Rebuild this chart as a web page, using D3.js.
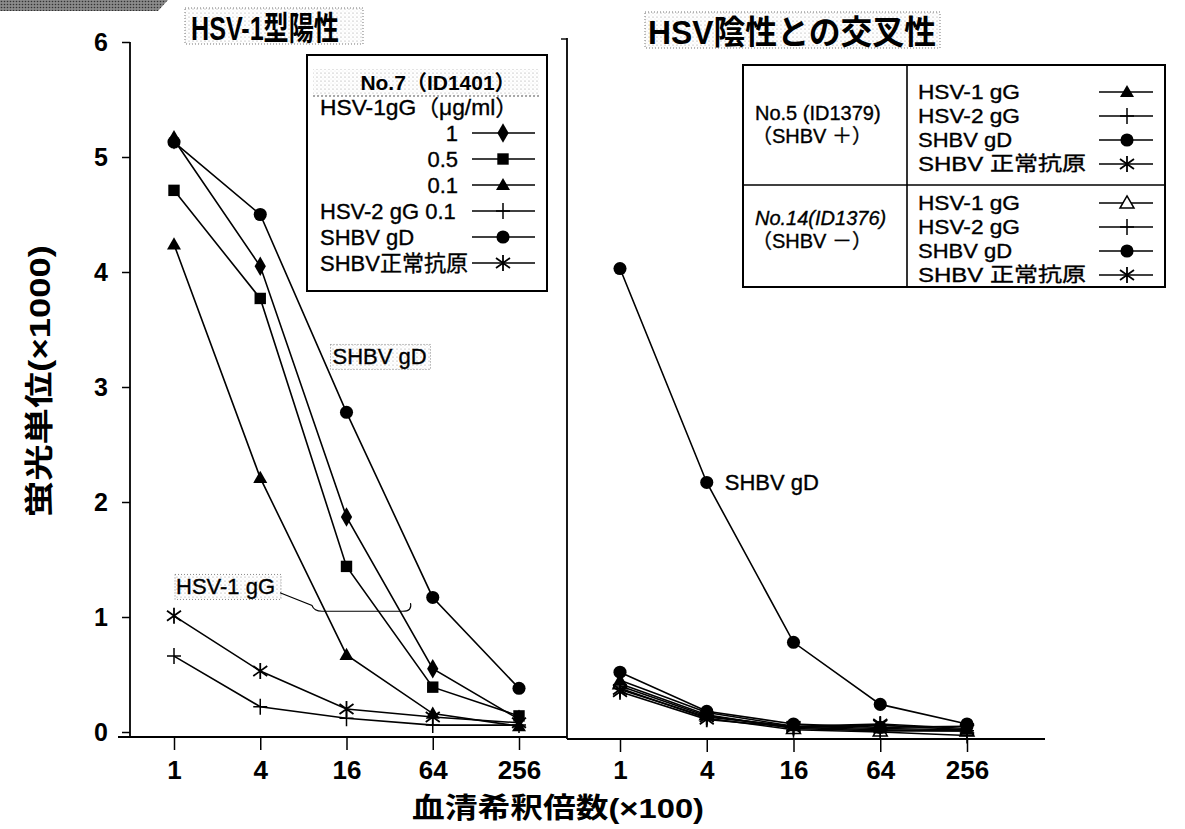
<!DOCTYPE html>
<html>
<head>
<meta charset="utf-8">
<script src="https://cdn.jsdelivr.net/npm/d3@7/dist/d3.min.js"></script>
<style>
body { margin: 0; background: #fff; }
svg { display: block; font-family: "Liberation Sans", Arial, "Noto Sans CJK JP", sans-serif; }
.lt { stroke: black; stroke-width: 0.35; }
</style>
</head>
<body>
<svg width="1185" height="829"></svg>
<script>
const dilutions = ["1", "4", "16", "64", "256"]
const yTicks = [0, 1, 2, 3, 4, 5, 6]

// left panel, No.7 (ID1401)
const leftLabels = ["1", "0.5", "0.1", "HSV-2 gG 0.1", "SHBV gD", "SHBV正常抗原"]
const leftMarkers = ["diamond", "square", "triangle", "plus", "circle", "asterisk"]
const hsv1_1 = [5.15, 4.05, 1.87, 0.55, 0.11]
const hsv1_05 = [4.71, 3.77, 1.44, 0.39, 0.14]
const hsv1_01 = [4.24, 2.21, 0.67, 0.16, 0.05]
const hsv2_01 = [0.66, 0.22, 0.12, 0.06, 0.06]
const shbvGd7 = [5.13, 4.50, 2.78, 1.17, 0.38]
const shbvNormal7 = [1.01, 0.53, 0.20, 0.13, 0.08]
const leftValues = [hsv1_1, hsv1_05, hsv1_01, hsv2_01, shbvGd7, shbvNormal7]

// right panel, No.5 (ID1379) and No.14 (ID1376)
const rightLabels = ["HSV-1 gG", "HSV-2 gG", "SHBV gD", "SHBV 正常抗原"]
const no5Markers = ["triangle", "plus", "circle", "asterisk"]
const no14Markers = ["triangleOpen", "plus", "circle", "asterisk"]
const no5Hsv1 = [0.45, 0.17, 0.05, 0.03, 0.02]
const no5Hsv2 = [0.40, 0.14, 0.04, 0.02, 0.01]
const no5ShbvGd = [4.03, 2.17, 0.78, 0.24, 0.07]
const no5Normal = [0.37, 0.13, 0.05, 0.07, 0.03]
const no14Hsv1 = [0.42, 0.15, 0.03, 0.01, 0.01]
const no14Hsv2 = [0.38, 0.12, 0.02, 0.00, -0.03]
const no14ShbvGd = [0.52, 0.18, 0.07, 0.04, 0.05]
const no14Normal = [0.35, 0.11, 0.04, 0.06, 0.02]
const no5Values = [no5Hsv1, no5Hsv2, no5ShbvGd, no5Normal]
const no14Values = [no14Hsv1, no14Hsv2, no14ShbvGd, no14Normal]

const svg = d3.select("svg")

const y = d3.scaleLinear().domain([0, 6]).range([732, 42])
const xL = d3.scalePoint().domain(dilutions).range([174, 519])
const xR = d3.scalePoint().domain(dilutions).range([620, 967])

// stipple pattern used behind the titles and labels
const defs = svg.append("defs")
const pat = defs.append("pattern").attr("id", "dots")
    .attr("width", 4).attr("height", 4).attr("patternUnits", "userSpaceOnUse")
pat.append("circle").attr("cx", 1).attr("cy", 1).attr("r", 0.6).attr("fill", "#9a9a9a")
pat.append("circle").attr("cx", 3).attr("cy", 3).attr("r", 0.4).attr("fill", "#c8c8c8")
const pat2 = defs.append("pattern").attr("id", "dark")
    .attr("width", 3).attr("height", 3).attr("patternUnits", "userSpaceOnUse")
pat2.append("rect").attr("width", 3).attr("height", 3).attr("fill", "#8a8a8a")
pat2.append("circle").attr("cx", 1.5).attr("cy", 1.5).attr("r", 0.8).attr("fill", "#333")

// scan smudge at top left
svg.append("polygon").attr("points", "0,0 168,0 158,11 0,11").attr("fill", "url(#dark)")

function marker(g, type, cx, cy) {
    if (type == "plus") {
        g.append("path").attr("d", `M${cx - 7},${cy}H${cx + 7}M${cx},${cy - 8}V${cy + 8}`)
            .attr("stroke", "black").attr("stroke-width", 1.5).attr("fill", "none")
    } else if (type == "asterisk") {
        g.append("path").attr("d", `M${cx},${cy - 8}V${cy + 8}M${cx - 7},${cy - 5}L${cx + 7},${cy + 5}M${cx - 7},${cy + 5}L${cx + 7},${cy - 5}`)
            .attr("stroke", "black").attr("stroke-width", 1.8).attr("fill", "none")
    } else {
        let sym = d3.symbolCircle, size = 135
        if (type == "diamond") { sym = d3.symbolDiamond; size = 110 }
        if (type == "square") { sym = d3.symbolSquare; size = 130 }
        if (type == "triangle" || type == "triangleOpen") { sym = d3.symbolTriangle; size = 85 }
        g.append("path").attr("d", d3.symbol().type(sym).size(size)())
            .attr("transform", `translate(${cx},${cy + (sym == d3.symbolTriangle ? 1 : 0)})`)
            .attr("fill", type == "triangleOpen" ? "white" : "black")
            .attr("stroke", "black").attr("stroke-width", type == "triangleOpen" ? 1.5 : 0)
    }
}

function series(g, x, values, type) {
    const line = d3.line().x((d, i) => x(dilutions[i])).y(d => y(d))
    g.append("path").datum(values).attr("d", line)
        .attr("fill", "none").attr("stroke", "black").attr("stroke-width", 1.6)
    for (let i = 0; i < values.length; i++) {
        marker(g, type, x(dilutions[i]), y(values[i]))
    }
}

// axes
const tickFont = '"Liberation Sans Narrow", "Liberation Sans", Arial, sans-serif'
const yAxis = svg.append("g").attr("transform", "translate(130,0)")
    .call(d3.axisLeft(y).tickValues(yTicks).tickSize(8).tickPadding(14).tickFormat(d3.format("d")))
yAxis.select(".domain").remove()
yAxis.selectAll("line").attr("stroke-width", 1.5)
yAxis.selectAll("text").attr("font-size", 25).attr("font-weight", "bold").attr("font-family", tickFont)
svg.append("line").attr("x1", 130).attr("x2", 130).attr("y1", y(6)).attr("y2", 738)
    .attr("stroke", "black").attr("stroke-width", 1.8)

const xAxisL = svg.append("g").attr("transform", "translate(0,737)")
    .call(d3.axisBottom(xL).tickSize(13).tickPadding(11))
const xAxisR = svg.append("g").attr("transform", "translate(0,739)")
    .call(d3.axisBottom(xR).tickSize(13).tickPadding(9))
for (const ax of [xAxisL, xAxisR]) {
    ax.select(".domain").remove()
    ax.selectAll("line").attr("stroke-width", 1.5)
    ax.selectAll("text").attr("font-size", 26).attr("font-weight", "bold").attr("font-family", tickFont)
}
svg.append("line").attr("x1", 118).attr("x2", 567).attr("y1", 737).attr("y2", 737)
    .attr("stroke", "black").attr("stroke-width", 2)
svg.append("line").attr("x1", 567).attr("x2", 1045).attr("y1", 739).attr("y2", 739)
    .attr("stroke", "black").attr("stroke-width", 2)
// panel divider
svg.append("line").attr("x1", 567).attr("x2", 567).attr("y1", 38).attr("y2", 739)
    .attr("stroke", "black").attr("stroke-width", 1.8)
svg.append("line").attr("x1", 561).attr("x2", 567).attr("y1", 39).attr("y2", 39)
    .attr("stroke", "black").attr("stroke-width", 1.4)

// axis titles
svg.append("text").attr("transform", `translate(50,${y(3.05)}) rotate(-90)`)
    .attr("text-anchor", "middle").attr("font-size", 29).attr("font-weight", "bold")
    .attr("textLength", 272).attr("lengthAdjust", "spacingAndGlyphs")
    .text("蛍光単位(×1000)")
svg.append("text").attr("x", 558).attr("y", 818)
    .attr("text-anchor", "middle").attr("font-size", 28).attr("font-weight", "bold")
    .attr("textLength", 292).attr("lengthAdjust", "spacingAndGlyphs")
    .text("血清希釈倍数(×100)")

// panel titles
svg.append("rect").attr("x", 185).attr("y", 8).attr("width", 178).attr("height", 36)
    .attr("fill", "url(#dots)").attr("stroke", "#777").attr("stroke-dasharray", "1,2")
svg.append("text").attr("x", 191).attr("y", 40).attr("font-size", 33).attr("font-weight", "bold")
    .attr("textLength", 148).attr("lengthAdjust", "spacingAndGlyphs").text("HSV-1型陽性")
svg.append("rect").attr("x", 645).attr("y", 12).attr("width", 295).attr("height", 36)
    .attr("fill", "url(#dots)").attr("stroke", "#777").attr("stroke-dasharray", "1,2")
svg.append("text").attr("x", 648).attr("y", 44).attr("font-size", 33).attr("font-weight", "bold")
    .attr("textLength", 288).attr("lengthAdjust", "spacingAndGlyphs").text("HSV陰性との交叉性")

// data
const gL = svg.append("g")
for (let i = 0; i < leftValues.length; i++) {
    series(gL, xL, leftValues[i], leftMarkers[i])
}
const gR = svg.append("g")
for (let i = 0; i < no14Values.length; i++) {
    series(gR, xR, no14Values[i], no14Markers[i])
}
for (let i = 0; i < no5Values.length; i++) {
    series(gR, xR, no5Values[i], no5Markers[i])
}

// annotations
const lblSize = 22
svg.append("rect").attr("x", xL("16") - 16).attr("y", y(3.37)).attr("width", 100).attr("height", 25)
    .attr("fill", "url(#dots)").attr("stroke", "#888").attr("stroke-dasharray", "1,2")
svg.append("text").attr("class", "lt").attr("x", xL("16") - 14).attr("y", y(3.37) + 20).attr("font-size", lblSize).text("SHBV gD")
svg.append("rect").attr("x", xL("1") + 1).attr("y", y(1.37)).attr("width", 106).attr("height", 25)
    .attr("fill", "url(#dots)").attr("stroke", "#888").attr("stroke-dasharray", "1,2")
svg.append("text").attr("class", "lt").attr("x", xL("1") + 2).attr("y", y(1.37) + 20).attr("font-size", lblSize).text("HSV-1 gG")
svg.append("path")
    .attr("d", `M${xL("1") + 106},${y(1.21)} L${xL("1") + 138},${y(1.1)} Q${xL("1") + 140},${y(1.05)} ${xL("1") + 148},${y(1.05)} L${xL("16") + 56},${y(1.05)} Q${xL("16") + 66},${y(1.05)} ${xL("16") + 64},${y(1.12)}`)
    .attr("fill", "none").attr("stroke", "black").attr("stroke-width", 1.1)
svg.append("text").attr("class", "lt").attr("x", xR("4") + 18).attr("y", y(2.17) + 8).attr("font-size", lblSize).text("SHBV gD")

// left legend
const lg = svg.append("g")
lg.append("rect").attr("x", 307).attr("y", 55).attr("width", 240).attr("height", 236)
    .attr("fill", "white").attr("stroke", "black").attr("stroke-width", 2)
lg.append("rect").attr("x", 313).attr("y", 69).attr("width", 226).attr("height", 27)
    .attr("fill", "url(#dots)")
lg.append("line").attr("x1", 313).attr("x2", 539).attr("y1", 96).attr("y2", 96)
    .attr("stroke", "#555").attr("stroke-dasharray", "2,2")
lg.append("text").attr("x", 438).attr("y", 90).attr("text-anchor", "middle")
    .attr("font-size", 21).attr("font-weight", "bold").text("No.7（ID1401）")
lg.append("text").attr("class", "lt").attr("x", 320).attr("y", 115).attr("font-size", lblSize)
    .attr("textLength", 198).attr("lengthAdjust", "spacingAndGlyphs").text("HSV-1gG（μg/ml）")
for (let i = 0; i < leftLabels.length; i++) {
    const cy = 133 + i * 26
    if (i < 3) {
        lg.append("text").attr("class", "lt").attr("x", 458).attr("y", cy + 8).attr("text-anchor", "end")
            .attr("font-size", lblSize).text(leftLabels[i])
    } else {
        lg.append("text").attr("class", "lt").attr("x", 320).attr("y", cy + 8).attr("font-size", lblSize).text(leftLabels[i])
    }
    lg.append("line").attr("x1", 472).attr("x2", 535).attr("y1", cy).attr("y2", cy)
        .attr("stroke", "black").attr("stroke-width", 1.5)
    marker(lg, leftMarkers[i], 503, cy)
}

// right legend
const rg = svg.append("g")
rg.append("rect").attr("x", 743).attr("y", 65).attr("width", 422).attr("height", 222)
    .attr("fill", "white").attr("stroke", "black").attr("stroke-width", 2)
rg.append("line").attr("x1", 907).attr("x2", 907).attr("y1", 65).attr("y2", 287)
    .attr("stroke", "black").attr("stroke-width", 1.6)
rg.append("line").attr("x1", 743).attr("x2", 1165).attr("y1", 185).attr("y2", 185)
    .attr("stroke", "black").attr("stroke-width", 1.6)
rg.append("text").attr("class", "lt").attr("x", 755).attr("y", 120).attr("font-size", 20).text("No.5 (ID1379)")
rg.append("text").attr("class", "lt").attr("x", 752).attr("y", 143).attr("font-size", 20).text("（SHBV ＋）")
rg.append("text").attr("class", "lt").attr("x", 755).attr("y", 225).attr("font-size", 20).attr("font-style", "italic").text("No.14(ID1376)")
rg.append("text").attr("class", "lt").attr("x", 752).attr("y", 248).attr("font-size", 20).text("（SHBV －）")
const groups = [[no5Markers, 92], [no14Markers, 203]]
for (const [marks, top] of groups) {
    for (let i = 0; i < rightLabels.length; i++) {
        const cy = top + i * 24
        rg.append("text").attr("class", "lt").attr("x", 918).attr("y", cy + 7).attr("font-size", 20.5)
            .attr("textLength", i == 3 ? 168 : (i == 2 ? 94 : 102)).attr("lengthAdjust", "spacingAndGlyphs")
            .text(rightLabels[i])
        rg.append("line").attr("x1", 1099).attr("x2", 1153).attr("y1", cy).attr("y2", cy)
            .attr("stroke", "black").attr("stroke-width", 1.5)
        marker(rg, marks[i], 1127, cy)
    }
}
</script>
</body>
</html>
